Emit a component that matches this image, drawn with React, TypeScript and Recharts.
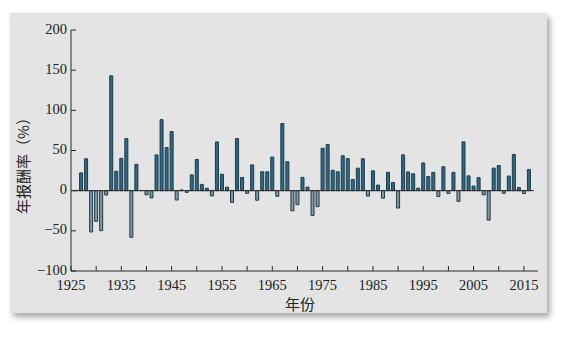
import React from 'react';
import { BarChart, Bar, XAxis, YAxis, Cell, ReferenceLine } from 'recharts';

const years: number[] = [
  1926, 1927, 1928, 1929, 1930, 1931, 1932, 1933, 1934, 1935,
  1936, 1937, 1938, 1939, 1940, 1941, 1942, 1943, 1944, 1945,
  1946, 1947, 1948, 1949, 1950, 1951, 1952, 1953, 1954, 1955,
  1956, 1957, 1958, 1959, 1960, 1961, 1962, 1963, 1964, 1965,
  1966, 1967, 1968, 1969, 1970, 1971, 1972, 1973, 1974, 1975,
  1976, 1977, 1978, 1979, 1980, 1981, 1982, 1983, 1984, 1985,
  1986, 1987, 1988, 1989, 1990, 1991, 1992, 1993, 1994, 1995,
  1996, 1997, 1998, 1999, 2000, 2001, 2002, 2003, 2004, 2005,
  2006, 2007, 2008, 2009, 2010, 2011, 2012, 2013, 2014, 2015, 2016,
];

const returns: number[] = [
  0.3, 22.1, 39.7, -51.4, -38.2, -49.8, -5.4, 142.9, 24.2, 40.2,
  64.8, -58.0, 32.8, 0.3, -5.2, -9.0, 44.5, 88.4, 53.7, 73.6,
  -11.6, 0.9, -2.1, 19.7, 38.8, 7.8, 3.0, -6.5, 60.6, 20.4,
  4.3, -14.6, 64.9, 16.4, -3.3, 32.1, -11.9, 23.6, 23.5, 41.8,
  -7.0, 83.6, 36.0, -25.1, -17.4, 16.5, 4.4, -30.9, -19.9, 52.8,
  57.4, 25.4, 23.5, 43.5, 39.9, 13.9, 28.0, 39.7, -6.7, 24.7,
  6.9, -9.3, 22.9, 10.2, -21.6, 44.6, 23.3, 21.0, 3.1, 34.5,
  17.6, 22.8, -7.3, 29.8, -3.6, 22.8, -13.3, 60.7, 18.4, 5.7,
  16.2, -5.2, -36.7, 28.1, 31.3, -3.3, 18.2, 45.1, 3.8, -3.6, 26.4,
];

const xTicks: number[] = [
  1925, 1930, 1935, 1940, 1945, 1950, 1955, 1960, 1965, 1970,
  1975, 1980, 1985, 1990, 1995, 2000, 2005, 2010, 2015,
];
const yTicks: number[] = [-100, -50, 0, 50, 100, 150, 200];

const data = years.map((y, i) => ({ year: y, value: returns[i] }));

const POS_FILL = '#2c6a87';
const NEG_FILL = '#8597a1';
const BAR_STROKE = '#1f3a47';
const AXIS = '#2a2a2a';
const TEXT = '#222';
const SERIF = '"Liberation Serif", "DejaVu Serif", serif';
const CJK = '"Noto Sans CJK SC", sans-serif';

const Y_MARGIN = 4;
const X_MARGIN = 5;

const YTick = (props: any) => {
  const { x, y, payload } = props;
  const ax = x + Y_MARGIN;
  return (
    <g>
      <line x1={ax} y1={y} x2={ax + 5} y2={y} stroke={AXIS} strokeWidth={1} />
      <text x={x} y={y + 3.5} textAnchor="end" fill={TEXT} fontSize={14.5} fontFamily={SERIF}>
        {payload.value < 0 ? '\u2212' + Math.abs(payload.value) : payload.value}
      </text>
    </g>
  );
};

const XTick = (props: any) => {
  const { x, y, payload } = props;
  const ay = y - X_MARGIN;
  const show = (payload.value - 1925) % 10 === 0;
  return (
    <g>
      <line x1={x} y1={ay} x2={x} y2={ay - 5} stroke={AXIS} strokeWidth={1} />
      {show && (
        <text x={x} y={y + 14} textAnchor="middle" fill={TEXT} fontSize={14.5} fontFamily={SERIF}>
          {payload.value}
        </text>
      )}
    </g>
  );
};

export default function App() {
  return (
    <div style={{ position: 'absolute', left: 0, top: 0, width: 566, height: 338, background: '#fff' }}>
      <div
        style={{
          position: 'absolute',
          left: 10,
          top: 13,
          width: 537,
          height: 300,
          background: '#e4e4e4',
          boxShadow: '3px 4px 6px rgba(0,0,0,0.35)',
        }}
      />
      <div style={{ position: 'absolute', left: 0, top: 0 }}>
        <BarChart
          width={566}
          height={338}
          data={data}
          margin={{ top: 30, right: 28, bottom: 37, left: 11 }}
        >
          <XAxis
            dataKey="year"
            type="number"
            domain={[1925, 2017.8]}
            ticks={xTicks}
            interval={0}
            tickSize={0}
            tickMargin={X_MARGIN}
            tickLine={false}
            tick={<XTick />}
            axisLine={{ stroke: AXIS, strokeWidth: 1 }}
            height={30}
            allowDataOverflow
          />
          <YAxis
            type="number"
            domain={[-100, 200]}
            ticks={yTicks}
            interval={0}
            tickSize={0}
            tickMargin={Y_MARGIN}
            tickLine={false}
            tick={<YTick />}
            axisLine={{ stroke: AXIS, strokeWidth: 1 }}
            width={60}
          />
          <ReferenceLine
            segment={[{ x: 1925, y: 0 }, { x: 2017, y: 0 }]}
            stroke={AXIS}
            strokeWidth={1}
          />
          <Bar dataKey="value" barSize={3} isAnimationActive={false} stroke={BAR_STROKE} strokeWidth={1}>
            {data.map((d, i) => (
              <Cell key={i} fill={d.value >= 0 ? POS_FILL : NEG_FILL} />
            ))}
          </Bar>
        </BarChart>
      </div>
      <div
        style={{
          position: 'absolute',
          left: 300,
          top: 303,
          transform: 'translate(-50%, -50%)',
          fontFamily: CJK,
          fontSize: 15,
          color: TEXT,
          whiteSpace: 'nowrap',
        }}
      >
        年份
      </div>
      <div
        style={{
          position: 'absolute',
          left: 22,
          top: 162,
          transform: 'translate(-50%, -50%) rotate(-90deg)',
          fontFamily: CJK,
          fontSize: 15,
          color: TEXT,
          whiteSpace: 'nowrap',
        }}
      >
        年报酬率（%）
      </div>
    </div>
  );
}
